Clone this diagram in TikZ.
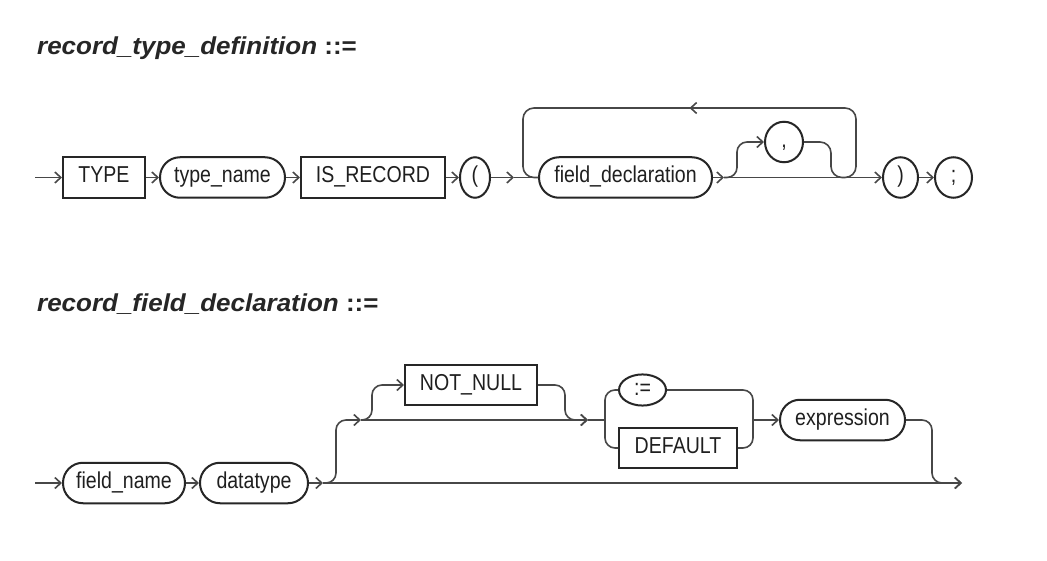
\documentclass[tikz,border=0pt]{standalone}
\usepackage{fontspec}
\setmainfont{Liberation Sans}
\newfontfamily\diafont[FakeStretch=0.85]{Liberation Sans}
\newfontfamily\titlefont[FakeStretch=1.06]{Liberation Sans}
\usetikzlibrary{shapes.geometric,arrows.meta,decorations.markings}

\begin{document}
\begin{tikzpicture}[x=1pt,y=-1pt,
  base/.style={draw=black!85, line width=2pt, inner sep=0pt, text=black!88,
    font=\diafont\fontsize{23}{23}\selectfont, text height=16.5pt, text depth=5.5pt,
    minimum height=40.5pt},
  kw/.style={base, rectangle},
  nt/.style={base, rectangle, rounded corners=20pt},
  sym/.style={base, ellipse},
  conn/.style={draw=black!72, line width=1.6pt},
  arr/.style={conn, -{Straight Barb[length=6pt,width=11pt]}},
  ttl/.style={anchor=base west, inner sep=0pt,
    font=\titlefont\bfseries\itshape\fontsize{24.5}{24.5}\selectfont, text=black!85},
  ]
\useasboundingbox[fill=white] (0,0) rectangle (1047,561);

% ---------- record_type_definition ----------
\node[ttl] (t1) at (37,55) {record\_type\_definition \textup{::=}};
\coordinate (s1) at (35,177.5);
\node[kw, minimum width=82pt] (type) at (104,177.5) {TYPE};
\node[nt, minimum width=125pt] (tname) at (222.5,177.5) {type\_name};
\node[kw, minimum width=144pt] (isrec) at (373,177.5) {IS\_RECORD};
\node[sym, minimum width=30pt] (lp) at (475,177.5) {(};
\node[nt, minimum width=173pt] (fd) at (625.5,177.5) {field\_declaration};
\node[sym, minimum width=38pt] (comma) at (784,142) {,};
\node[sym, minimum width=35pt] (rp) at (900.5,177.5) {)};
\node[sym, minimum width=37pt] (semi) at (953.5,177.5) {;};

\coordinate (j1) at (514,177.5);
\coordinate (j2) at (724,177.5);
\coordinate (lr) at (856,108);
\coordinate (ll) at (523,108);

\draw[arr] (s1) -- (type.west);
\draw[arr] (type.east) -- (tname.west);
\draw[arr] (tname.east) -- (isrec.west);
\draw[arr] (isrec.east) -- (lp.west);
\draw[arr] (lp.east) -- (j1);
\draw[conn] (j1) -- (fd.west);
\draw[arr] (fd.east) -- (j2);
\draw[arr] (j2) -- (rp.west);
\draw[arr] (rp.east) -- (semi.west);
\draw[arr, rounded corners=10pt] (j2) -- (737,177.5) |- (comma.west);
\draw[conn, rounded corners=11pt] (comma.east) -| (831,177.5) -| (lr) -- (ll) |- (fd.west);
\path[decoration={markings, mark=at position 0.5 with
  {\arrow[black!72, line width=1.6pt]{Straight Barb[length=6pt,width=11pt]}}},
  decorate] (lr) -- (ll);

% ---------- record_field_declaration ----------
\node[ttl] (t2) at (37,312) {record\_field\_declaration \textup{::=}};
\coordinate (s2) at (35,483);
\node[nt, minimum width=122pt] (fname) at (124,483) {field\_name};
\node[nt, minimum width=108pt] (dtype) at (254,483) {datatype};
\node[kw, minimum width=132pt] (nn) at (471,385) {NOT\_NULL};
\node[sym, minimum width=47pt, minimum height=31pt] (asg) at (642.5,390) {:=};
\node[kw, minimum width=118pt] (dflt) at (678,448) {DEFAULT};
\node[nt, minimum width=125pt] (expr) at (842.5,420) {expression};
\coordinate (e2) at (962,483);

\coordinate (j3) at (323,483);
\coordinate (b1) at (361,420);
\coordinate (b2) at (588,420);
\coordinate (c1) at (605,420);
\coordinate (c2) at (753,420);

\draw[arr] (s2) -- (fname.west);
\draw[arr] (fname.east) -- (dtype.west);
\draw[arr] (dtype.east) -- (j3);
\draw[arr] (j3) -- (e2);
\draw[arr, rounded corners=10pt] (j3) -- (336,483) |- (b1);
\draw[arr] (b1) -- (b2);
\draw[arr, rounded corners=10pt] (b1) -- (372,420) |- (nn.west);
\draw[arr, rounded corners=10pt] (nn.east) -| (565,420) -- (b2);
\draw[conn] (b2) -- (c1);
\draw[conn, rounded corners=10pt] (asg.west) -| (c1) |- (dflt.west);
\draw[conn, rounded corners=10pt] (asg.east) -| (c2) |- (dflt.east);
\draw[arr] (c2) -- (expr.west);
\draw[arr, rounded corners=10pt] (expr.east) -- (932,420) |- (e2);
\end{tikzpicture}
\end{document}
